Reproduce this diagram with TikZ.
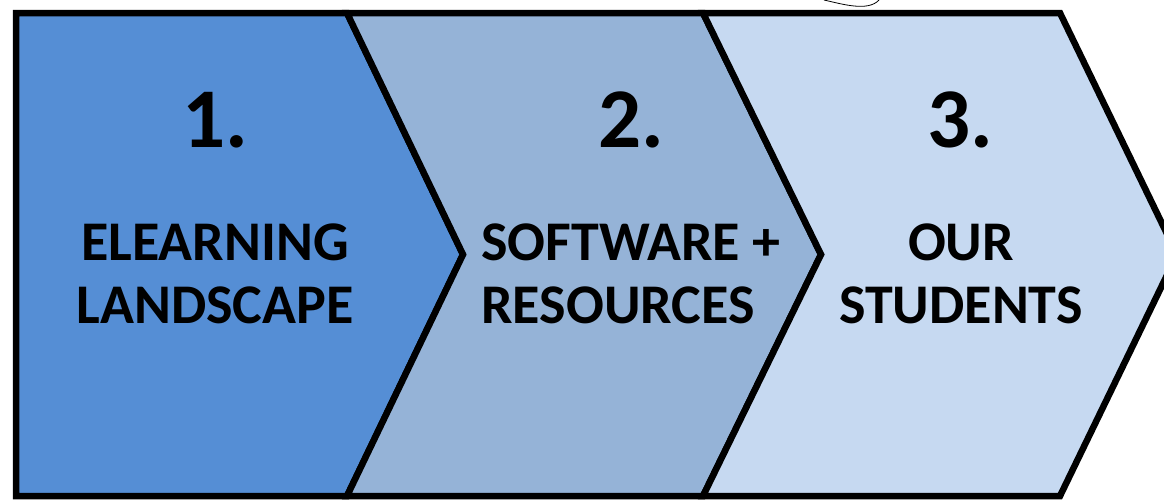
\documentclass[tikz,border=0pt]{standalone}
\usepackage{fontspec}
\setmainfont{Carlito}
\definecolor{stepone}{HTML}{558ED5}
\definecolor{steptwo}{HTML}{95B3D7}
\definecolor{stepthree}{HTML}{C6D9F1}
\begin{document}
\begin{tikzpicture}[x=1pt,y=-1pt,
    chevron/.style={draw=black,line width=6.5pt},
    num/.style={font=\bfseries\fontsize{85}{85}\selectfont,inner sep=0pt,anchor=base},
    caption/.style={font=\bfseries\fontsize{56}{63}\selectfont,inner sep=0pt,anchor=base}]
  \useasboundingbox (0,0) rectangle (1164,499);
  \fill[white] (0,0) rectangle (1164,499);
  \begin{scope}[chevron]
    \filldraw[fill=stepone] (16,13) -- (347,13) -- (463,254.5) -- (347,496) -- (16,496) -- cycle;
    \filldraw[fill=steptwo] (347,13) -- (703,13) -- (821,254.5) -- (703,496) -- (347,496) -- (463,254.5) -- cycle;
    \filldraw[fill=stepthree] (703,13) -- (1060,13) -- (1177,254.5) -- (1060,496) -- (703,496) -- (821,254.5) -- cycle;
  \end{scope}
  \draw[line width=0.8pt] (824,0) .. controls (842,4) and (868,12) .. (879,0);
  \path
    (215,147) node[num] (n1) {1.}
    (631,147) node[num] (n2) {2.}
    (960,147) node[num] (n3) {3.}
    (215,323) node[caption,align=center] (c1) {ELEARNING\\LANDSCAPE}
    (631,323) node[caption,align=left] (c2) {SOFTWARE +\\RESOURCES}
    (961,323) node[caption,align=center] (c3) {OUR\\STUDENTS};
\end{tikzpicture}
\end{document}
